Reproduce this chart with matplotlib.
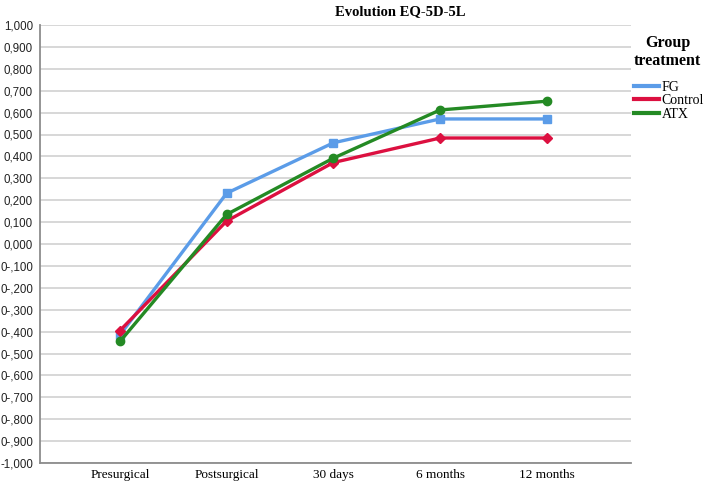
import matplotlib
matplotlib.use("Agg")
import matplotlib.pyplot as plt
from matplotlib.lines import Line2D

categories = ["Presurgical", "Postsurgical", "30 days", "6 months", "12 months"]
fg = [-0.415, 0.232, 0.462, 0.571, 0.571]
control = [-0.395, 0.105, 0.372, 0.484, 0.484]
atx = [-0.445, 0.135, 0.392, 0.612, 0.652]
ytick_vals = [round(1 - 0.1 * i, 1) for i in range(21)]
ytick_labels = ["1,000", "0,900", "0,800", "0,700", "0,600", "0,500", "0,400",
                "0,300", "0,200", "0,100", "0,000", "0-,100", "0-,200", "0-,300",
                "0-,400", "0-,500", "0-,600", "0-,700", "0-,800", "0-,900", "-1,000"]
series_names = ["FG", "Control", "ATX"]
colors = ["#5B9CE8", "#DC1040", "#248A24"]
markers = ["s", "D", "o"]

fig = plt.figure(figsize=(7.08, 4.82), dpi=100)
ax = fig.add_axes([40/708, 1-463/482, (631-40)/708, (463-25)/482])

x = list(range(len(categories)))
for vals, c, m in zip([fg, control, atx], colors, markers):
    ms = 5.5 if m == "D" else 6
    ax.plot(x, vals, color=c, lw=2.4, marker=m, ms=ms, zorder=3)

ax.set_xlim(-0.75, 4.79)
ax.set_ylim(-1.0, 1.0)
ax.set_yticks(ytick_vals)
ax.set_yticklabels(ytick_labels, fontsize=8.3, family="Liberation Sans", color="#222222")
ax.set_xticks(x)
ax.set_xticklabels(categories, fontsize=9.5, family="Liberation Serif")
ax.tick_params(axis="both", length=0)
ax.tick_params(axis="y", pad=5)
ax.tick_params(axis="x", pad=4)
ax.grid(axis="y", color="#d4d4d4", lw=1.3, zorder=0)
for s in ["top", "right"]:
    ax.spines[s].set_visible(False)
for s in ["left", "bottom"]:
    ax.spines[s].set_color("#8c8c8c")
    ax.spines[s].set_linewidth(1.3)

fig.text(400/708, 1-12/482, "Evolution EQ-5D-5L", ha="center", va="center",
         fontsize=10.5, fontweight="bold", family="Liberation Serif")

handles = [Line2D([0], [0], color=c, lw=3) for c in colors]
leg = fig.legend(handles, series_names, title="Group\ntreatment",
                 loc="upper left", bbox_to_anchor=(634/708, 1-35/482),
                 frameon=False, prop={"family": "Liberation Serif", "size": 10},
                 title_fontproperties={"family": "Liberation Serif", "size": 11.5, "weight": "bold"},
                 handlelength=1.8, handletextpad=0.2, labelspacing=0.05,
                 borderaxespad=0, borderpad=0)
leg._legend_box.align = "left"
leg._legend_box.sep = 8
leg.get_title().set_multialignment("center")

fig.savefig("out.png", dpi=100)
